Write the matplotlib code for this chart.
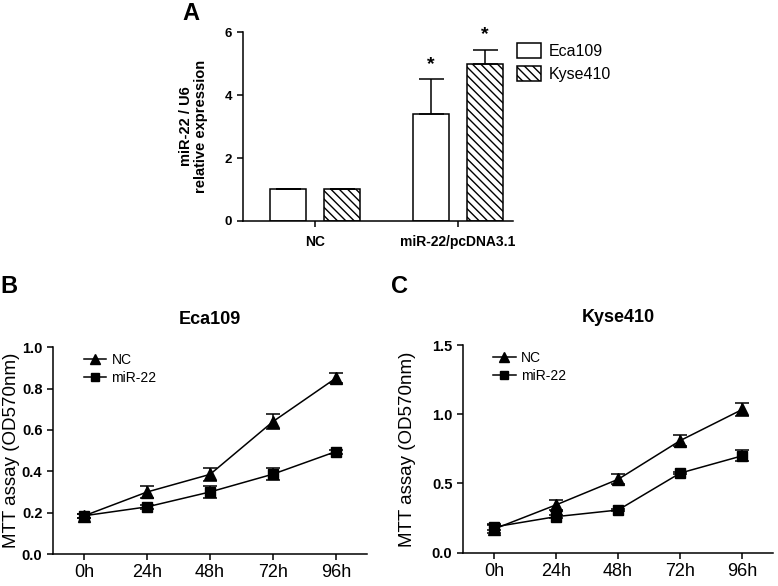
import matplotlib
matplotlib.use("Agg")
import matplotlib.pyplot as plt
from matplotlib.patches import Patch
from matplotlib.lines import Line2D
import numpy as np

plt.rcParams['font.family'] = ['Liberation Sans', 'DejaVu Sans']
plt.rcParams['hatch.linewidth'] = 1.0

# panel A data
groups = ['NC', 'miR-22/pcDNA3.1']
eca_expr = [1.0, 3.4]
eca_err = [0.0, 1.1]
kyse_expr = [1.0, 5.0]
kyse_err = [0.0, 0.44]

# panel B / C data
times = ['0h', '24h', '48h', '72h', '96h']
eca_nc = [0.185, 0.30, 0.385, 0.64, 0.85]
eca_nc_err = [0.01, 0.03, 0.03, 0.035, 0.025]
eca_mir = [0.185, 0.228, 0.30, 0.386, 0.495]
eca_mir_err = [0.01, 0.01, 0.03, 0.03, 0.01]
kyse_nc = [0.17, 0.345, 0.53, 0.81, 1.035]
kyse_nc_err = [0.03, 0.035, 0.035, 0.04, 0.045]
kyse_mir = [0.185, 0.26, 0.308, 0.575, 0.70]
kyse_mir_err = [0.02, 0.01, 0.01, 0.01, 0.04]

LW = 1.1

fig = plt.figure(figsize=(7.78, 5.86), dpi=100)


def style_axes(ax):
    for s in ['top', 'right']:
        ax.spines[s].set_visible(False)
    for s in ['left', 'bottom']:
        ax.spines[s].set_linewidth(LW)
    ax.tick_params(width=LW, length=4, direction='out')


# ---- A: bar chart
axA = fig.add_axes([0.312, 0.623, 0.347, 0.322])
style_axes(axA)
x = np.arange(len(groups))
w = 0.252
off = 0.189
axA.bar(x - off, eca_expr, w, color='white', edgecolor='black', linewidth=LW,
        yerr=[np.zeros(2), eca_err], error_kw=dict(ecolor='black', elinewidth=LW, capsize=9, capthick=LW))
axA.bar(x + off, kyse_expr, w, color='white', edgecolor='black', linewidth=LW, hatch='\\\\\\\\',
        yerr=[np.zeros(2), kyse_err], error_kw=dict(ecolor='black', elinewidth=LW, capsize=9, capthick=LW))
for xi, v, e in [(x[1] - off, eca_expr[1], eca_err[1]), (x[1] + off, kyse_expr[1], kyse_err[1])]:
    axA.text(xi, v + e + 0.2, '*', ha='center', va='bottom', fontsize=14, fontweight='bold')
axA.set_xlim(-0.506, 1.385)
axA.set_ylim(0, 6)
axA.set_yticks([0, 2, 4, 6])
axA.set_xticks(x)
axA.set_xticklabels(groups, fontsize=10, fontweight='bold')
axA.tick_params(axis='x', pad=6)
for t in axA.get_yticklabels():
    t.set_fontsize(9.5)
    t.set_fontweight('bold')
axA.set_ylabel('miR-22 / U6\nrelative expression', fontsize=10.5, fontweight='bold', linespacing=1.05)
axA.yaxis.set_label_coords(-0.13, 0.5)
fig.legend(handles=[Patch(facecolor='white', edgecolor='black', linewidth=LW, label='Eca109'),
                    Patch(facecolor='white', edgecolor='black', linewidth=LW, hatch='\\\\\\\\', label='Kyse410')],
           loc='upper left', bbox_to_anchor=(0.664, 0.927), frameon=False, fontsize=11.5,
           handlelength=1.5, handleheight=1.1, handletextpad=0.5, labelspacing=0.45, borderaxespad=0,
           borderpad=0)
fig.text(0.235, 0.997, 'A', fontsize=17, fontweight='bold', va='top', ha='left')


# ---- B / C: MTT curves
def mtt_panel(rect, nc, nc_err, mir, mir_err, title, ylim, yticks, ylab_x):
    ax = fig.add_axes(rect)
    style_axes(ax)
    xs = np.arange(len(times))
    ax.errorbar(xs, nc, yerr=nc_err, color='black', marker='^', markersize=8, linewidth=LW,
                elinewidth=LW, capsize=5, capthick=LW)
    ax.errorbar(xs, mir, yerr=mir_err, color='black', marker='s', markersize=7, linewidth=LW,
                elinewidth=LW, capsize=5, capthick=LW)
    ax.set_xlim(-0.5, 4.5)
    ax.set_ylim(*ylim)
    ax.set_yticks(yticks)
    ax.set_yticklabels(['%.1f' % t for t in yticks], fontsize=10.5, fontweight='bold')
    ax.set_xticks(xs)
    ax.set_xticklabels(times, fontsize=13)
    ax.set_title(title, fontsize=13, fontweight='bold', pad=17)
    ax.set_ylabel('MTT assay (OD570nm)', fontsize=13.5)
    ax.yaxis.set_label_coords(ylab_x, 0.5)
    ax.legend(handles=[Line2D([], [], color='black', marker='^', markersize=7, linewidth=LW, label='NC'),
                       Line2D([], [], color='black', marker='s', markersize=6, linewidth=LW, label='miR-22')],
              loc='upper left', bbox_to_anchor=(0.08, 1.0), frameon=False, fontsize=10,
              handlelength=1.6, handletextpad=0.4, labelspacing=0.3, borderaxespad=0)
    return ax


mtt_panel([0.068, 0.0546, 0.404, 0.353], eca_nc, eca_nc_err, eca_mir, eca_mir_err,
          'Eca109', (0, 1.0), [0.0, 0.2, 0.4, 0.6, 0.8, 1.0], -0.105)
mtt_panel([0.595, 0.057, 0.399, 0.354], kyse_nc, kyse_nc_err, kyse_mir, kyse_mir_err,
          'Kyse410', (0, 1.5), [0.0, 0.5, 1.0, 1.5], -0.15)
fig.text(0.0, 0.53, 'B', fontsize=17, fontweight='bold', va='top', ha='left')
fig.text(0.503, 0.53, 'C', fontsize=17, fontweight='bold', va='top', ha='left')

fig.savefig('out.png', dpi=100, facecolor='white')
